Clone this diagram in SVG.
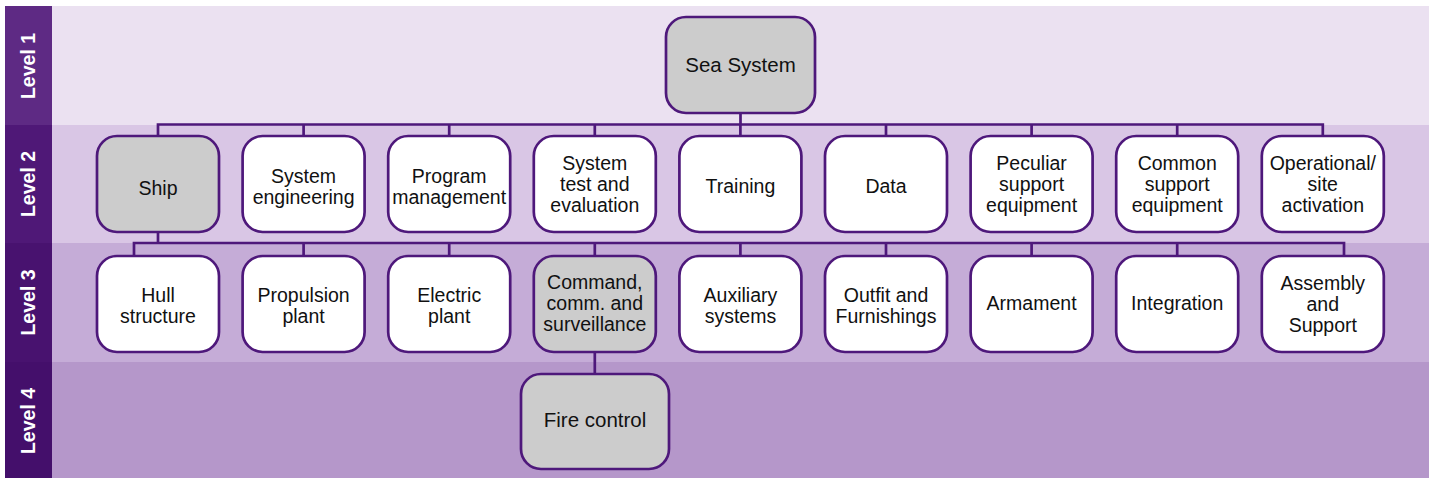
<svg xmlns="http://www.w3.org/2000/svg" width="1433" height="478" viewBox="0 0 1433 478">
<style>
.band{stroke:none}
.side{stroke:none}
.lvl{font-family:"Liberation Sans",Arial,sans-serif;font-weight:bold;font-size:19.5px;fill:#ffffff;text-anchor:middle}
.node{stroke:#4E187B;stroke-width:2.7}
.grey{fill:#CCCCCC}
.white{fill:#FFFFFF}
.t{font-family:"Liberation Sans",Arial,sans-serif;font-size:19.5px;fill:#111111;text-anchor:middle}
.big{font-size:20.5px}
.c{fill:none;stroke:#4E187B;stroke-width:2.7;stroke-linecap:square}
</style>
<rect x="0" y="0" width="1433" height="478" fill="#ffffff"/>
<g id="bands">
<rect class="band" x="5" y="6" width="1424" height="119" fill="#EBE1F1"/>
<rect class="band" x="5" y="125" width="1424" height="118" fill="#D9C6E5"/>
<rect class="band" x="5" y="243" width="1424" height="119" fill="#C5ACD7"/>
<rect class="band" x="5" y="362" width="1424" height="116" fill="#B597CA"/>
<rect class="side" x="5" y="6" width="47" height="119" fill="#5E2A84"/>
<rect class="side" x="5" y="125" width="47" height="118" fill="#4F1877"/>
<rect class="side" x="5" y="243" width="47" height="119" fill="#48126F"/>
<rect class="side" x="5" y="362" width="47" height="116" fill="#440F6B"/>
<text class="lvl" transform="translate(35,66) rotate(-90)">Level 1</text>
<text class="lvl" transform="translate(35,184) rotate(-90)">Level 2</text>
<text class="lvl" transform="translate(35,302.5) rotate(-90)">Level 3</text>
<text class="lvl" transform="translate(35,421) rotate(-90)">Level 4</text>
</g>
<g id="connectors">
<path class="c" d="M740.5 113 V124.5 M158 124.5 H1322.8 M158 124.5 V136 M303.6 124.5 V136 M449.2 124.5 V136 M594.8 124.5 V136 M740.4 124.5 V136 M886 124.5 V136 M1031.6 124.5 V136 M1177.2 124.5 V136 M1322.8 124.5 V136"/>
<path class="c" d="M158 232 V243 M134 243 H1344 M134 243 V256 M303.6 243 V256 M449.2 243 V256 M594.8 243 V256 M740.4 243 V256 M886 243 V256 M1031.6 243 V256 M1177.2 243 V256 M1344 243 V256"/>
<path class="c" d="M594.8 352 V374"/>
</g>
<g id="sea-system"><rect class="node grey" x="666" y="17" width="149" height="96" rx="20"/><text class="t big" x="740.5" y="72">Sea System</text></g>
<g id="ship"><rect class="node grey" x="97" y="136" width="122" height="96" rx="20"/><text class="t" x="158" y="195">Ship</text></g>
<g id="system-engineering"><rect class="node white" x="242.6" y="136" width="122" height="96" rx="20"/><text class="t" x="303.6" y="183">System</text><text class="t" x="303.6" y="204">engineering</text></g>
<g id="program-management"><rect class="node white" x="388.2" y="136" width="122" height="96" rx="20"/><text class="t" x="449.2" y="183">Program</text><text class="t" x="449.2" y="204">management</text></g>
<g id="system-test"><rect class="node white" x="533.8" y="136" width="122" height="96" rx="20"/><text class="t" x="594.8" y="170">System</text><text class="t" x="594.8" y="191">test and</text><text class="t" x="594.8" y="212">evaluation</text></g>
<g id="training"><rect class="node white" x="679.4" y="136" width="122" height="96" rx="20"/><text class="t" x="740.4" y="193">Training</text></g>
<g id="data"><rect class="node white" x="825" y="136" width="122" height="96" rx="20"/><text class="t" x="886" y="193">Data</text></g>
<g id="peculiar-support"><rect class="node white" x="970.6" y="136" width="122" height="96" rx="20"/><text class="t" x="1031.6" y="170">Peculiar</text><text class="t" x="1031.6" y="191">support</text><text class="t" x="1031.6" y="212">equipment</text></g>
<g id="common-support"><rect class="node white" x="1116.2" y="136" width="122" height="96" rx="20"/><text class="t" x="1177.2" y="170">Common</text><text class="t" x="1177.2" y="191">support</text><text class="t" x="1177.2" y="212">equipment</text></g>
<g id="operational"><rect class="node white" x="1261.8" y="136" width="122" height="96" rx="20"/><text class="t" x="1322.8" y="170">Operational/</text><text class="t" x="1322.8" y="191">site</text><text class="t" x="1322.8" y="212">activation</text></g>
<g id="hull"><rect class="node white" x="97" y="256" width="122" height="96" rx="20"/><text class="t" x="158" y="302">Hull</text><text class="t" x="158" y="323">structure</text></g>
<g id="propulsion"><rect class="node white" x="242.6" y="256" width="122" height="96" rx="20"/><text class="t" x="303.6" y="302">Propulsion</text><text class="t" x="303.6" y="323">plant</text></g>
<g id="electric"><rect class="node white" x="388.2" y="256" width="122" height="96" rx="20"/><text class="t" x="449.2" y="302">Electric</text><text class="t" x="449.2" y="323">plant</text></g>
<g id="command"><rect class="node grey" x="533.8" y="256" width="122" height="96" rx="20"/><text class="t" x="594.8" y="289">Command,</text><text class="t" x="594.8" y="310">comm. and</text><text class="t" x="594.8" y="331">surveillance</text></g>
<g id="auxiliary"><rect class="node white" x="679.4" y="256" width="122" height="96" rx="20"/><text class="t" x="740.4" y="302">Auxiliary</text><text class="t" x="740.4" y="323">systems</text></g>
<g id="outfit"><rect class="node white" x="825" y="256" width="122" height="96" rx="20"/><text class="t" x="886" y="302">Outfit and</text><text class="t" x="886" y="323">Furnishings</text></g>
<g id="armament"><rect class="node white" x="970.6" y="256" width="122" height="96" rx="20"/><text class="t" x="1031.6" y="310">Armament</text></g>
<g id="integration"><rect class="node white" x="1116.2" y="256" width="122" height="96" rx="20"/><text class="t" x="1177.2" y="310">Integration</text></g>
<g id="assembly"><rect class="node white" x="1261.8" y="256" width="122" height="96" rx="20"/><text class="t" x="1322.8" y="290">Assembly</text><text class="t" x="1322.8" y="311">and</text><text class="t" x="1322.8" y="332">Support</text></g>
<g id="fire-control"><rect class="node grey" x="521" y="374" width="148" height="95" rx="20"/><text class="t big" x="595" y="427">Fire control</text></g>
</svg>
